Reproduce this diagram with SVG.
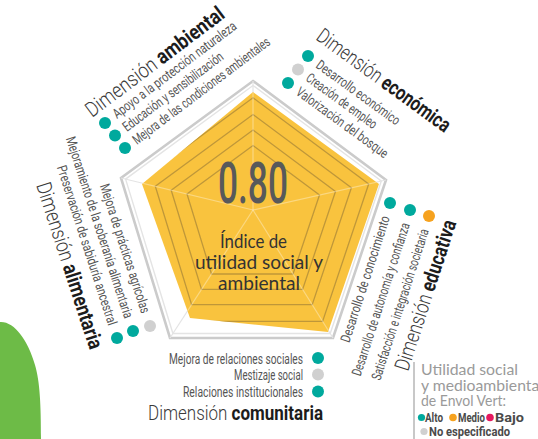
<svg xmlns="http://www.w3.org/2000/svg" width="538" height="439" viewBox="0 0 538 439">
<defs>
<style>
.ttl{font-family:"Roboto","Liberation Sans",sans-serif;font-size:21px;fill:#3a3a3a}
.lt{font-weight:300}
.bd{font-weight:700;fill:#1c1c1c}
.it{font-family:"Roboto","Liberation Sans",sans-serif;font-size:13.8px;fill:#555}
.dt{fill:#00a99d}.dg{fill:#d0d0d0}.do{fill:#f6a21e}.dp{fill:#e6195f}
.ring{fill:none;stroke:#b08c38;stroke-width:1.3;stroke-opacity:0.8}
.leg{font-family:"Lato","Liberation Sans",sans-serif;font-size:16px;fill:#9a9a9a}
.lb{font-family:"Roboto","Liberation Sans",sans-serif;font-size:12.5px;font-weight:700;fill:#4a4a4a}
</style>
<clipPath id="yc"><polygon points="253,92 379,184 328,332 190,318 142,184"/></clipPath>
</defs>
<path id="green" d="M0,322 C14,321 28,340 35,365 C40,382 41,405 41,439 L0,439 Z" fill="#6dbb47"/>
<g id="chart">
<polygon points="253,81 386,180 333,338 170,338 121,178" fill="none" stroke="#cbcbcb" stroke-width="2.6"/>
<polygon points="253,85.5 381.3,181 330.2,333.5 172.9,333.5 125.6,179.1" fill="none" stroke="#e4e4e4" stroke-width="1.4"/>
<g stroke="#e4e4e4" stroke-width="1.2">
<line x1="253" y1="210" x2="253" y2="81"/><line x1="253" y1="210" x2="386" y2="180"/><line x1="253" y1="210" x2="333" y2="338"/><line x1="253" y1="210" x2="170" y2="338"/><line x1="253" y1="210" x2="121" y2="178"/>
</g>
<polygon points="253,92 379,184 328,332 190,318 142,184" fill="#f9c33e"/>
<g clip-path="url(#yc)">
<polygon class="ring" points="253,97.8 368.7,183.9 322.6,321.4 180.8,321.4 138.2,182.2"/>
<polygon class="ring" points="253,114.5 351.4,187.8 312.2,304.7 191.6,304.7 155.3,186.3"/>
<polygon class="ring" points="253,130 335.5,191.4 302.6,289.4 201.5,289.4 171.2,190.2"/>
<polygon class="ring" points="253,145.5 319.5,195 293,274 211.5,274 187,194" stroke="#8f7d52"/>
<g stroke="#ffffff" stroke-opacity="0.35" stroke-width="1.2">
<line x1="253" y1="210" x2="253" y2="81"/><line x1="253" y1="210" x2="386" y2="180"/><line x1="253" y1="210" x2="333" y2="338"/><line x1="253" y1="210" x2="170" y2="338"/><line x1="253" y1="210" x2="121" y2="178"/>
</g>
</g>
<text x="253" y="203" text-anchor="middle" font-family="Roboto,'Liberation Sans',sans-serif" font-size="58" font-weight="500" fill="#58595b" textLength="70" lengthAdjust="spacingAndGlyphs">0.80</text>
<g font-family="Lato,'Liberation Sans',sans-serif" font-size="19" fill="#333" text-anchor="middle">
<text x="253.5" y="248" textLength="67" lengthAdjust="spacingAndGlyphs">Índice de</text>
<text x="259" y="269" textLength="128" lengthAdjust="spacingAndGlyphs">utilidad social y</text>
<text x="259" y="290" textLength="82" lengthAdjust="spacingAndGlyphs">ambiental</text>
</g>
</g>
<g id="ambiental">
<text class="ttl" transform="translate(92,118) rotate(-37)" textLength="168" lengthAdjust="spacingAndGlyphs"><tspan class="lt">Dimensión </tspan><tspan class="bd">ambiental</tspan></text>
<text class="it" transform="translate(117,119) rotate(-37)" textLength="151" lengthAdjust="spacingAndGlyphs">Apoyo a la protección naturaleza</text>
<text class="it" transform="translate(127,132) rotate(-37)" textLength="122" lengthAdjust="spacingAndGlyphs">Educación y sensibilización</text>
<text class="it" transform="translate(137,145) rotate(-37)" textLength="168" lengthAdjust="spacingAndGlyphs">Mejora de las condiciones ambientales</text>
<circle class="dt" cx="105" cy="123" r="6"/><circle class="dt" cx="115" cy="135.5" r="6"/><circle class="dt" cx="125" cy="148" r="6"/>
</g>
<g id="economica">
<text class="ttl" transform="translate(315,39) rotate(36)" textLength="160" lengthAdjust="spacingAndGlyphs"><tspan class="lt">Dimensión </tspan><tspan class="bd">económica</tspan></text>
<text class="it" transform="translate(315,67) rotate(36)" textLength="100" lengthAdjust="spacingAndGlyphs">Desarrollo económico</text>
<text class="it" transform="translate(305,80) rotate(36)" textLength="84" lengthAdjust="spacingAndGlyphs">Creación de empleo</text>
<text class="it" transform="translate(295,94) rotate(36)" textLength="110" lengthAdjust="spacingAndGlyphs">Valorización del bosque</text>
<circle class="dt" cx="308" cy="56" r="6"/><circle class="dg" cx="298" cy="69.5" r="6"/><circle class="dt" cx="288" cy="83" r="6"/>
</g>
<g id="alimentaria">
<text class="ttl" transform="translate(36,185) rotate(72)" textLength="174" lengthAdjust="spacingAndGlyphs"><tspan class="lt">Dimensión </tspan><tspan class="bd">alimentaria</tspan></text>
<text class="it" text-anchor="end" transform="translate(108.4,326.1) rotate(72)" textLength="167" lengthAdjust="spacingAndGlyphs">Preservación de sabiduría ancestral</text>
<text class="it" text-anchor="end" transform="translate(124.4,319.1) rotate(72)" textLength="190" lengthAdjust="spacingAndGlyphs">Mejoramiento de la soberanía alimentaria</text>
<text class="it" text-anchor="end" transform="translate(141.4,314.1) rotate(72)" textLength="135" lengthAdjust="spacingAndGlyphs">Mejora de prácticas agrícolas</text>
<circle class="dt" cx="117" cy="338" r="6"/><circle class="dt" cx="133" cy="331" r="6"/><circle class="dg" cx="150" cy="326" r="6"/>
</g>
<g id="educativa">
<text class="ttl" transform="translate(408,372) rotate(-72)" textLength="157" lengthAdjust="spacingAndGlyphs"><tspan class="lt">Dimensión </tspan><tspan class="bd">educativa</tspan></text>
<text class="it" text-anchor="end" transform="translate(390,217.7) rotate(-72)" textLength="132" lengthAdjust="spacingAndGlyphs">Desarrollo de conocimiento</text>
<text class="it" text-anchor="end" transform="translate(410,224.7) rotate(-72)" textLength="160" lengthAdjust="spacingAndGlyphs">Desarrollo de autonomía y confianza</text>
<text class="it" text-anchor="end" transform="translate(429,230.7) rotate(-72)" textLength="158" lengthAdjust="spacingAndGlyphs">Satisfacción e integración societaria</text>
<circle class="dt" cx="390" cy="203" r="6"/><circle class="dt" cx="410" cy="210" r="6"/><circle class="do" cx="429" cy="216" r="6"/>
</g>
<g id="comunitaria">
<text class="it" x="303" y="364" text-anchor="end" textLength="134" lengthAdjust="spacingAndGlyphs">Mejora de relaciones sociales</text>
<text class="it" x="303" y="380" text-anchor="end" textLength="69" lengthAdjust="spacingAndGlyphs">Mestizaje social</text>
<text class="it" x="303" y="396.5" text-anchor="end" textLength="120" lengthAdjust="spacingAndGlyphs">Relaciones institucionales</text>
<text class="ttl" x="148" y="420" textLength="175" lengthAdjust="spacingAndGlyphs"><tspan class="lt">Dimensión </tspan><tspan class="bd">comunitaria</tspan></text>
<circle class="dt" cx="318" cy="358" r="6"/><circle class="dg" cx="318" cy="374.5" r="6"/><circle class="dt" cx="318" cy="391.5" r="6"/>
</g>
<g id="legend">
<line x1="414" y1="362" x2="414" y2="439" stroke="#c8c8c8" stroke-width="2"/>
<text class="leg" x="421" y="375" textLength="97" lengthAdjust="spacingAndGlyphs">Utilidad social</text>
<text class="leg" x="421" y="391" textLength="122" lengthAdjust="spacingAndGlyphs">y medioambiental</text>
<text class="leg" x="421" y="406" textLength="85" lengthAdjust="spacingAndGlyphs">de Envol Vert:</text>
<circle class="dt" cx="421.5" cy="417.5" r="3.6"/>
<text class="lb" x="425" y="421.5" textLength="18" lengthAdjust="spacingAndGlyphs">Alto</text>
<circle class="do" cx="453" cy="417.5" r="3.8"/>
<text class="lb" x="458" y="421.5" textLength="27" lengthAdjust="spacingAndGlyphs">Medio</text>
<circle class="dp" cx="490" cy="417.5" r="3.8"/>
<text class="lb" x="495" y="421.5" textLength="29" lengthAdjust="spacingAndGlyphs">Bajo</text>
<circle class="dg" cx="424" cy="431.5" r="3.6"/>
<text class="lb" x="429" y="435.5" textLength="81" lengthAdjust="spacingAndGlyphs">No especificado</text>
</g>
</svg>
